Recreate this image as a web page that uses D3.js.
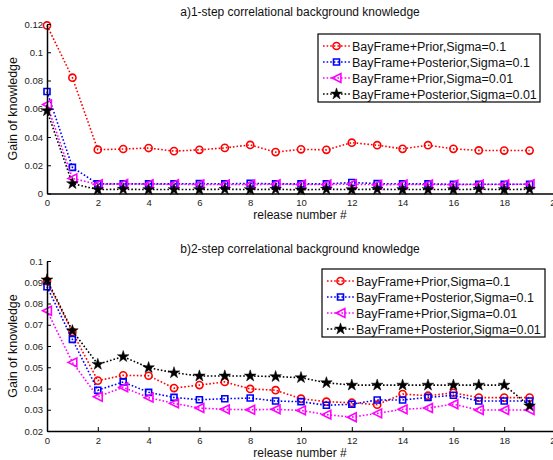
<!DOCTYPE html>
<html><head><meta charset="utf-8">
<script src="https://cdn.jsdelivr.net/npm/d3@7"></script>
<style>
body{margin:0;background:#fff;}
svg{font-family:"Liberation Sans",Arial,sans-serif;}
</style></head>
<body><svg id="c" width="553" height="460"></svg>
<script>
const releases = d3.range(0, 20);
const seriesNames = ["BayFrame+Prior,Sigma=0.1","BayFrame+Posterior,Sigma=0.1","BayFrame+Prior,Sigma=0.01","BayFrame+Posterior,Sigma=0.01"];
const colors = ["#ff0000","#0000ff","#ff00ff","#000000"];
const markers = ["circle","square","triangle","star"];

// Panel a) 1-step
const a_prior01 = [0.119,0.082,0.031,0.0315,0.0322,0.0300,0.0309,0.0323,0.0344,0.0293,0.0313,0.0309,0.0360,0.0342,0.0316,0.0342,0.0316,0.0305,0.0304,0.0304];
const a_post01  = [0.0722,0.0185,0.0068,0.0068,0.0068,0.0068,0.0070,0.0068,0.0072,0.0068,0.0068,0.0068,0.0078,0.0070,0.0068,0.0068,0.0065,0.0066,0.0066,0.0066];
const a_prior001= [0.063,0.0107,0.0065,0.0068,0.0066,0.0066,0.0064,0.0064,0.0064,0.0066,0.0064,0.0064,0.0066,0.0062,0.0064,0.0064,0.0062,0.0064,0.0064,0.0066];
const a_post001 = [0.0586,0.0070,0.0028,0.0030,0.0028,0.0028,0.0028,0.0030,0.0028,0.0030,0.0026,0.0030,0.0028,0.0030,0.0028,0.0028,0.0028,0.0030,0.0028,0.0030];
// Panel b) 2-step
const b_prior01 = [0.0905,0.0666,0.0437,0.0462,0.0460,0.0402,0.0416,0.0431,0.0398,0.0392,0.0352,0.0338,0.0333,0.0324,0.0374,0.0366,0.0380,0.0357,0.0357,0.0357];
const b_post01  = [0.0879,0.0631,0.0392,0.0431,0.0382,0.0358,0.0347,0.0352,0.0355,0.0341,0.0338,0.0321,0.0326,0.0346,0.0346,0.0358,0.0368,0.0341,0.0341,0.0341];
const b_prior001= [0.0766,0.0523,0.0361,0.0406,0.0357,0.0330,0.0308,0.0302,0.0300,0.0302,0.0297,0.0277,0.0265,0.0283,0.0302,0.0308,0.0326,0.0299,0.0299,0.0299];
const b_post001 = [0.0911,0.0672,0.0514,0.0550,0.0498,0.0474,0.0459,0.0459,0.0459,0.0456,0.0451,0.0427,0.0416,0.0416,0.0416,0.0416,0.0416,0.0416,0.0416,0.0318];

const xTicks = d3.range(0, 21, 2);
const aYTicks = [0,0.02,0.04,0.06,0.08,0.1,0.12];
const bYTicks = [0.02,0.03,0.04,0.05,0.06,0.07,0.08,0.09,0.1];
const titles = ["a)1-step correlational background knowledge","b)2-step correlational background knowledge"];
const xLabel = "release number #";
const yLabel = "Gain of knowledge";

const svg = d3.select("#c");

function markerPath(type){
  if(type==="circle") return d3.symbol(d3.symbolCircle, 40)();
  if(type==="square") return d3.symbol(d3.symbolSquare, 36)();
  if(type==="star") return d3.symbol(d3.symbolStar, 42)();
  const s = 4.4;
  return `M${-s},0L${s},${-s}L${s},${s}Z`;
}
function drawMarker(g, type, color, x, y){
  const filled = type==="star";
  g.append("path").attr("d", markerPath(type)).attr("transform",`translate(${x},${y})`)
   .attr("fill", filled? color : "none").attr("stroke", color).attr("stroke-width", filled?0.5:1.6);
}

function panel(cfg){
  const x = d3.scaleLinear().domain([0,20]).range([47,555]);
  const y = d3.scaleLinear().domain(cfg.ydom).range(cfg.yrange);
  const g = svg.append("g");
  cfg.data.forEach((arr,k)=>{
    const line = d3.line().x((d,i)=>x(releases[i])).y(d=>y(d));
    g.append("path").datum(arr).attr("d", line).attr("fill","none")
      .attr("stroke", colors[k]).attr("stroke-width",1.6).attr("stroke-dasharray","1.6,2");
    arr.forEach((v,i)=>drawMarker(g, markers[k], colors[k], x(releases[i]), y(v)));
  });
  const xa = g.append("g").attr("transform",`translate(0,${cfg.yrange[0]})`)
    .call(d3.axisBottom(x).tickValues(xTicks).tickSizeInner(-4).tickSizeOuter(0).tickPadding(6).tickFormat(d3.format("d")));
  const ya = g.append("g").attr("transform",`translate(47,0)`)
    .call(d3.axisLeft(y).tickValues(cfg.yticks).tickSizeInner(-4).tickSizeOuter(0).tickPadding(4).tickFormat(d=>String(+d.toFixed(3))));
  [xa,ya].forEach(a=>{
    a.select(".domain").attr("stroke","#000").attr("stroke-width",1.5);
    a.selectAll(".tick line").attr("stroke","#000");
    a.selectAll("text").attr("font-size","9.5px").attr("fill","#222").attr("font-family","Liberation Sans, Arial, sans-serif");
  });
  g.append("text").attr("x",300).attr("y",cfg.titleY).attr("text-anchor","middle").attr("font-size","12px").attr("fill","#111").text(cfg.title);
  g.append("text").attr("x",300).attr("y",cfg.xlabY).attr("text-anchor","middle").attr("font-size","12px").attr("fill","#111").text(xLabel);
  const ymid = (cfg.yrange[0]+cfg.yrange[1])/2;
  g.append("text").attr("transform",`translate(${cfg.ylabX},${ymid}) rotate(-90)`).attr("text-anchor","middle").attr("font-size","12.5px").attr("fill","#111").text(yLabel);
  const L = cfg.legend;
  const lg = g.append("g");
  lg.append("rect").attr("x",L.x).attr("y",L.y).attr("width",L.w).attr("height",L.h).attr("fill","#fff").attr("stroke","#000").attr("stroke-width",1.2);
  seriesNames.forEach((n,k)=>{
    const yy = L.y + 12 + k*L.dy;
    lg.append("line").attr("x1",L.x+5).attr("x2",L.x+32).attr("y1",yy).attr("y2",yy)
      .attr("stroke",colors[k]).attr("stroke-width",1.6).attr("stroke-dasharray","1.6,2");
    drawMarker(lg, markers[k], colors[k], L.x+18.5, yy);
    lg.append("text").attr("x",L.x+34).attr("y",yy+4.5).attr("font-size","12.5px").attr("fill","#111").text(n);
  });
}

panel({ydom:[0,0.12], yrange:[193.5,24], yticks:aYTicks, data:[a_prior01,a_post01,a_prior001,a_post001],
  title:titles[0], titleY:16, xlabY:219, ylabX:17,
  legend:{x:318,y:34,w:222,h:68,dy:16}});
panel({ydom:[0.02,0.1], yrange:[431,261], yticks:bYTicks, data:[b_prior01,b_post01,b_prior001,b_post001],
  title:titles[1], titleY:253, xlabY:457, ylabX:17,
  legend:{x:322,y:269,w:223,h:68,dy:16}});
</script></body></html>
